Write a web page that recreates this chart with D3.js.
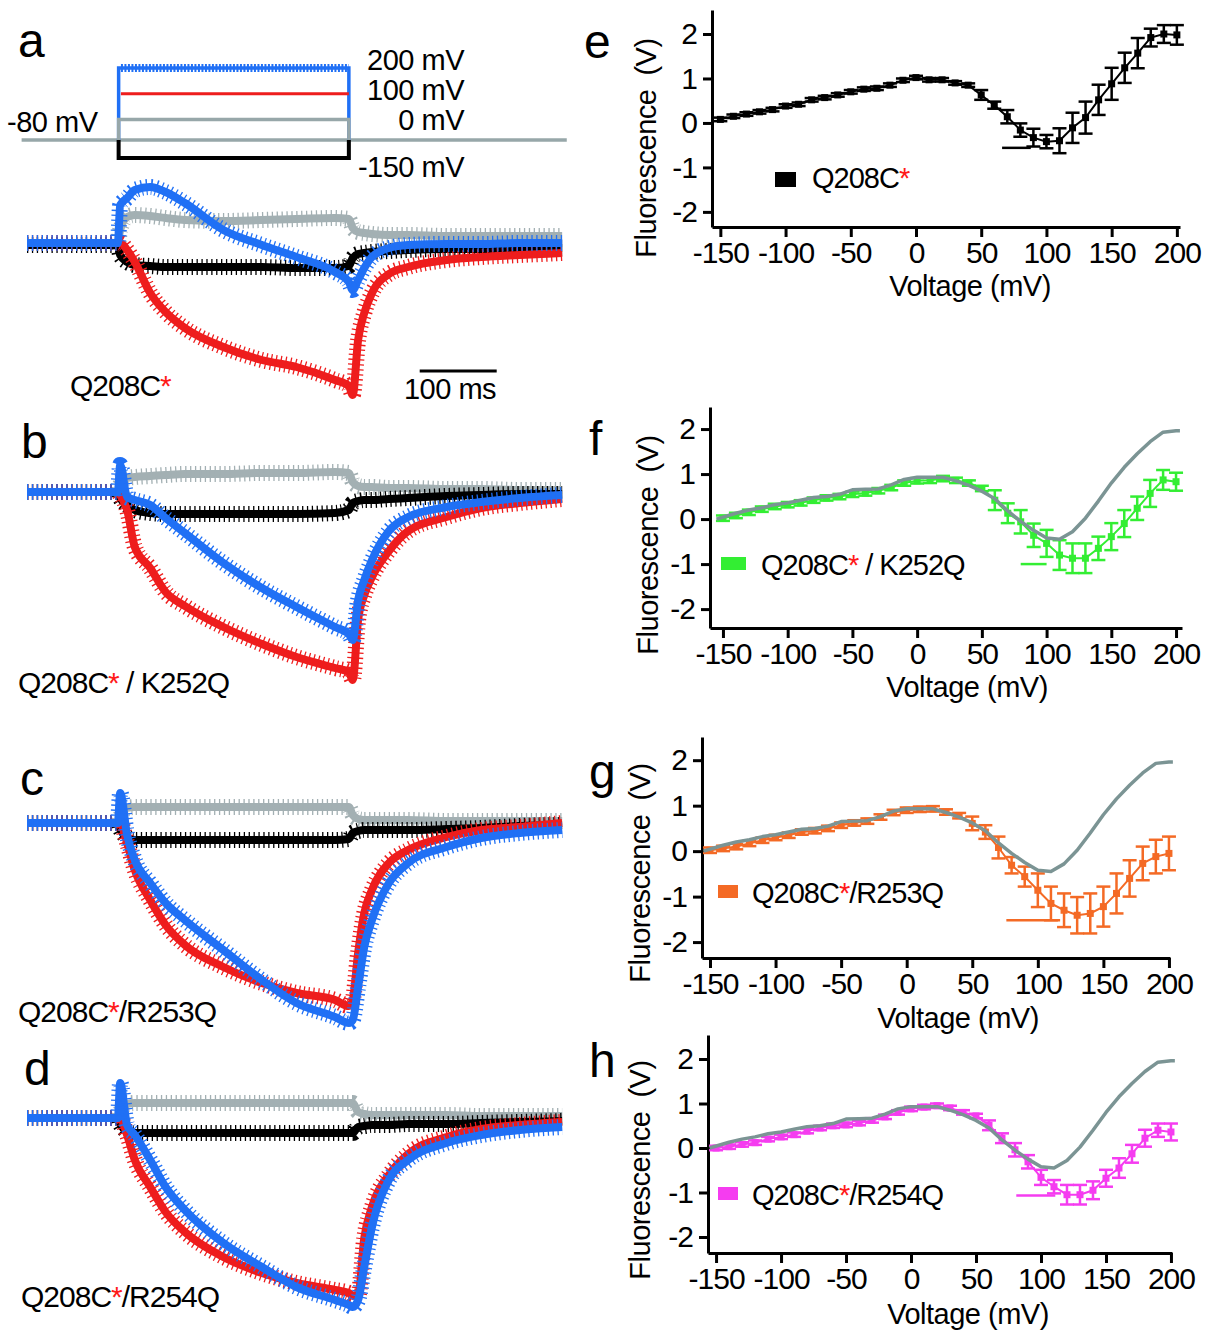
<!DOCTYPE html>
<html><head><meta charset="utf-8">
<script src="https://cdn.jsdelivr.net/npm/d3@7"></script>
<style>
body{margin:0;background:#fff}
svg{display:block}
text{font-family:"Liberation Sans",Arial,Helvetica,sans-serif}
</style>
</head><body>
<svg id="fig" width="1206" height="1332"></svg>
<script>
// ---------- DATA: voltage-clamp fluorescence traces (a-d) ----------
const traceTime = [0,60,118,121,130,140,160,180,205,255,305,350,400,418,423,430,438,448,470,495,545,590,640,695]; // ms
// ΔF (a.u.) for pulses to 0 mV (gray), -150 mV (black), 100 mV (red), 200 mV (blue)
const aGray  = [0,0,0,0.65,1.3,1.4,1.35,1.25,1.15,1.1,1.15,1.2,1.25,1.2,0.75,0.55,0.5,0.45,0.4,0.4,0.35,0.35,0.35,0.35];
const aBlack = [-0.1,-0.1,-0.1,-0.6,-0.95,-1.1,-1.15,-1.2,-1.2,-1.2,-1.2,-1.25,-1.25,-1.15,-0.75,-0.55,-0.5,-0.45,-0.4,-0.35,-0.3,-0.3,-0.25,-0.25];
const aRed   = [0,0,0,0,-0.35,-0.95,-2.5,-3.45,-4.25,-5.2,-5.85,-6.2,-6.85,-7.15,-7.6,-4.85,-3.5,-2.5,-1.55,-1.2,-0.85,-0.7,-0.6,-0.5];
const aBlue  = [0,0,0,1.9,2.25,2.65,2.8,2.55,2.0,0.65,-0.1,-0.7,-1.45,-1.95,-2.35,-1.85,-1.25,-0.7,-0.25,-0.1,-0.05,-0.05,0,0];

const bGray  = [0,0,0,0.35,0.7,0.75,0.8,0.85,0.9,0.9,0.95,0.95,1.0,0.95,0.5,0.3,0.25,0.25,0.2,0.2,0.15,0.15,0.1,0.1];
const bBlack = [0,0,0,-0.3,-0.65,-0.9,-1.05,-1.1,-1.1,-1.1,-1.1,-1.1,-1.05,-0.9,-0.55,-0.45,-0.4,-0.4,-0.35,-0.3,-0.2,-0.15,-0.1,-0.1];
const bRed   = [0,0,0,-0.15,-0.9,-2.75,-3.8,-5.0,-5.7,-6.75,-7.6,-8.25,-8.8,-9.0,-9.4,-6.4,-5.15,-4.25,-2.95,-1.95,-1.25,-0.8,-0.55,-0.35];
const bBlue  = [0,0,0,1.35,-0.25,-0.4,-0.65,-1.3,-2.05,-3.55,-4.8,-5.75,-6.75,-7.1,-7.4,-5.4,-4.4,-3.4,-1.95,-1.25,-0.75,-0.5,-0.3,-0.15];

const cGray  = [0,0,0,0.3,0.75,0.8,0.8,0.8,0.8,0.8,0.8,0.8,0.8,0.8,0.4,0.2,0.15,0.15,0.15,0.15,0.1,0.1,0.1,0.1];
const cBlack = [0,0,0,-0.3,-0.7,-0.85,-0.85,-0.85,-0.85,-0.85,-0.85,-0.85,-0.85,-0.8,-0.5,-0.4,-0.35,-0.35,-0.35,-0.35,-0.3,-0.25,-0.15,-0.1];
const cRed   = [0,0,0,0,-1.0,-2.35,-3.85,-5.1,-6.1,-7.2,-8.0,-8.5,-8.85,-9.15,-8.85,-6.5,-4.5,-3.35,-2.0,-1.35,-0.7,-0.35,-0.2,0];
const cBlue  = [0,0,0,1.5,-0.6,-1.85,-3.0,-4.0,-4.85,-6.35,-7.85,-9.0,-9.7,-10.0,-9.85,-8.2,-6.2,-4.85,-3.0,-2.0,-1.2,-0.75,-0.5,-0.35];

const dGray  = [0,0,0,0.3,0.7,0.75,0.75,0.75,0.75,0.75,0.75,0.75,0.75,0.75,0.75,0.3,0.2,0.15,0.15,0.15,0.15,0.1,0.1,0.1];
const dBlack = [0,0,0,-0.3,-0.65,-0.75,-0.75,-0.75,-0.75,-0.75,-0.75,-0.75,-0.75,-0.75,-0.75,-0.45,-0.4,-0.35,-0.35,-0.3,-0.3,-0.25,-0.2,-0.15];
const dRed   = [0,0,0,0,-0.85,-2.1,-3.45,-4.7,-5.7,-6.95,-7.75,-8.25,-8.6,-8.75,-8.9,-8.9,-6.0,-4.45,-2.85,-1.8,-0.95,-0.55,-0.35,-0.2];
const dBlue  = [0,0,0,1.75,-0.35,-0.85,-2.1,-3.45,-4.6,-6.25,-7.45,-8.45,-9.1,-9.35,-9.45,-9.1,-7.45,-5.45,-3.1,-2.1,-1.25,-0.85,-0.6,-0.45];

// pulse protocol
const holdingPotential = -80;
const pulseWindow = [119, 418];          // ms
const protocolSteps = [200, 100, 0, -150]; // mV
const protocolLabels = ["200 mV","100 mV","0 mV","-150 mV"];
const traceLabels = [["Q208C","*",""],["Q208C","*"," / K252Q"],["Q208C","*","/R253Q"],["Q208C","*","/R254Q"]];

// ---------- DATA: F-V relations (e-h) ----------
const voltages = [-150,-140,-130,-120,-110,-100,-90,-80,-70,-60,-50,-40,-30,-20,-10,0,10,20,30,40,50,60,70,80,90,100,110,120,130,140,150,160,170,180,190,200];
const eMean = [0.08,0.15,0.2,0.25,0.3,0.38,0.42,0.52,0.57,0.63,0.7,0.76,0.78,0.85,0.96,1.02,0.97,0.97,0.9,0.85,0.63,0.4,0.14,-0.16,-0.33,-0.42,-0.4,-0.11,0.12,0.52,0.88,1.24,1.57,1.92,2.0,1.98];
const eErr  = [0.04,0.04,0.04,0.04,0.04,0.04,0.04,0.04,0.04,0.04,0.04,0.04,0.04,0.04,0.04,0.04,0.04,0.04,0.04,0.04,0.11,0.08,0.15,0.15,0.2,0.15,0.28,0.34,0.36,0.34,0.36,0.34,0.34,0.2,0.2,0.22];
const fMean = [0.02,0.08,0.15,0.22,0.28,0.32,0.36,0.42,0.47,0.5,0.55,0.58,0.63,0.7,0.8,0.85,0.86,0.9,0.86,0.8,0.68,0.42,0.13,-0.06,-0.36,-0.54,-0.8,-0.87,-0.87,-0.65,-0.39,-0.1,0.24,0.57,0.87,0.83];
const fErr  = [0.06,0.06,0.06,0.06,0.06,0.06,0.06,0.06,0.06,0.06,0.06,0.06,0.06,0.06,0.06,0.06,0.06,0.06,0.06,0.06,0.06,0.22,0.22,0.26,0.26,0.3,0.33,0.33,0.33,0.26,0.3,0.3,0.26,0.3,0.22,0.2];
const gMean = [0.02,0.06,0.1,0.17,0.24,0.3,0.35,0.42,0.45,0.5,0.57,0.62,0.66,0.75,0.85,0.9,0.92,0.93,0.86,0.78,0.61,0.42,0.08,-0.31,-0.56,-0.86,-1.15,-1.3,-1.41,-1.37,-1.22,-0.93,-0.6,-0.27,-0.12,-0.05];
const gErr  = [0.06,0.06,0.06,0.06,0.06,0.06,0.06,0.06,0.06,0.06,0.06,0.06,0.06,0.06,0.06,0.06,0.06,0.06,0.06,0.06,0.15,0.15,0.24,0.18,0.22,0.37,0.37,0.37,0.4,0.44,0.44,0.44,0.4,0.37,0.37,0.37];
const hMean = [0,0.03,0.08,0.12,0.2,0.25,0.3,0.38,0.45,0.5,0.52,0.56,0.62,0.7,0.8,0.88,0.92,0.95,0.9,0.8,0.72,0.51,0.22,-0.04,-0.31,-0.66,-0.87,-1.05,-1.05,-0.95,-0.68,-0.45,-0.13,0.22,0.4,0.36];
const hErr  = [0.05,0.05,0.05,0.05,0.05,0.05,0.05,0.05,0.05,0.05,0.05,0.05,0.05,0.05,0.05,0.05,0.05,0.05,0.05,0.05,0.05,0.11,0.11,0.15,0.15,0.17,0.15,0.22,0.22,0.2,0.19,0.22,0.2,0.19,0.15,0.19];
// Q208C* reference curve (gray) overlaid on f-h
const refV = [-155,-140,-130,-120,-110,-100,-90,-80,-70,-60,-50,-40,-30,-20,-10,0,10,20,30,40,50,60,70,80,90,100,110,120,130,140,150,160,170,180,190,200,203];
const refF = [0,0.13,0.2,0.25,0.32,0.36,0.42,0.48,0.5,0.55,0.65,0.66,0.67,0.76,0.88,0.93,0.93,0.93,0.85,0.75,0.62,0.45,0.18,-0.05,-0.25,-0.42,-0.45,-0.28,0.02,0.4,0.8,1.15,1.45,1.72,1.93,1.96,1.96];
// stray horizontal segments [V start, V end, F]
const eStray = [66, 88, -0.56];
const fStray = [80, 100, -1.0];
const gStray = [76, 117, -1.52];
const hStray = [81, 111, -1.07];
const xTicks = [-150,-100,-50,0,50,100,150,200];
const yTicks = [-2,-1,0,1,2];

// ---------- DRAWING ----------
const svg = d3.select("#fig");
const COL = {gray:"#a3b0b3", black:"#000", red:"#ee1d1d", blue:"#2070f5"};
const FONT = '"Liberation Sans",Arial,Helvetica,sans-serif';

function label(x, y, parts, size, anchor) {
  const t = svg.append("text").attr("x", x).attr("y", y).attr("font-size", size)
    .attr("letter-spacing", -1).attr("text-anchor", anchor || "start");
  t.append("tspan").text(parts[0]);
  t.append("tspan").attr("fill", "#ff1a1a").text(parts[1]);
  if (parts[2]) t.append("tspan").text(parts[2]);
  return t;
}
function letter(x, y, s) {
  svg.append("text").attr("x", x).attr("y", y).attr("font-size", 48).text(s);
}

// time scale shared by protocol and traces
const tx = d3.scaleLinear().domain([0, 700]).range([27, 566]);

// protocol (panel a, top)
const vy = d3.scaleLinear().domain([-150, 200]).range([158, 68]);
const pg = svg.append("g");
const [p0, p1] = pulseWindow;
const stepPath = v => d3.line()([[tx(p0), vy(holdingPotential)], [tx(p0), vy(v)], [tx(p1), vy(v)], [tx(p1), vy(holdingPotential)]]);
pg.append("path").attr("d", d3.line()([[tx(-7), vy(holdingPotential)], [tx(701), vy(holdingPotential)]]))
  .attr("stroke", "#97a7a9").attr("stroke-width", 3.5).attr("fill", "none");
pg.append("path").attr("d", stepPath(protocolSteps[3])).attr("stroke", "#000").attr("stroke-width", 4).attr("fill", "none");
pg.append("path").attr("d", stepPath(protocolSteps[0])).attr("stroke", COL.blue).attr("stroke-width", 3.5).attr("fill", "none");
pg.append("path").attr("d", d3.line()([[tx(p0 + 3), vy(protocolSteps[0])], [tx(p1), vy(protocolSteps[0])]]))
  .attr("stroke", COL.blue).attr("stroke-width", 8).attr("stroke-dasharray", "2 1.5").attr("fill", "none");
pg.append("path").attr("d", stepPath(protocolSteps[2])).attr("stroke", "#97a7a9").attr("stroke-width", 3.5).attr("fill", "none");
pg.append("path").attr("d", d3.line()([[tx(p0 + 3), vy(protocolSteps[1])], [tx(p1), vy(protocolSteps[1])]]))
  .attr("stroke", COL.red).attr("stroke-width", 3).attr("fill", "none");
const labY = [70, 100, 130, 177];
protocolLabels.forEach((s, i) => {
  svg.append("text").attr("x", 464).attr("y", labY[i]).attr("font-size", 29).attr("letter-spacing", -0.5)
    .attr("text-anchor", "end").text(s);
});
svg.append("text").attr("x", 7).attr("y", 132).attr("font-size", 29).attr("letter-spacing", -0.5).text(holdingPotential + " mV");

// traces
const tracePanels = [
  {base: 243, data: [aGray, aBlack, aRed, aBlue], lab: [70, 396], letter: [18, 57, "a"]},
  {base: 492, data: [bGray, bBlack, bRed, bBlue], lab: [18, 693], letter: [21, 458, "b"]},
  {base: 823, data: [cGray, cBlack, cRed, cBlue], lab: [18, 1022], letter: [20, 795, "c"]},
  {base: 1118, data: [dGray, dBlack, dRed, dBlue], lab: [21, 1307], letter: [24, 1085, "d"]}
];
const traceCols = [COL.gray, COL.black, COL.red, COL.blue];
tracePanels.forEach((p, pi) => {
  const y = d3.scaleLinear().domain([-10, 3]).range([p.base + 200, p.base - 60]);
  const line = d3.line().x((d, i) => tx(traceTime[i])).y(d => y(d)).curve(d3.curveMonotoneX);
  const g = svg.append("g");
  p.data.forEach((arr, k) => {
    g.append("path").attr("d", line(arr)).attr("fill", "none").attr("stroke", traceCols[k])
      .attr("stroke-width", 8).attr("stroke-linejoin", "round");
    g.append("path").attr("d", line(arr)).attr("fill", "none").attr("stroke", traceCols[k])
      .attr("stroke-width", 16).attr("stroke-dasharray", "1.3 3.6");
  });
  label(p.lab[0], p.lab[1], traceLabels[pi], 30);
  letter(p.letter[0], p.letter[1], p.letter[2]);
});
// scale bar 100 ms
svg.append("line").attr("x1", tx(510)).attr("x2", tx(610)).attr("y1", 371).attr("y2", 371)
  .attr("stroke", "#000").attr("stroke-width", 3);
svg.append("text").attr("x", 450).attr("y", 399).attr("font-size", 29).attr("letter-spacing", -0.5)
  .attr("text-anchor", "middle").text("100 ms");

// F-V panels
const ivPanels = [
  {mean: eMean, err: eErr, stray: eStray, color: "#000", ref: false, letter: [584, 58, "e"],
   xd: [-156.4, 202.4], xr: [712, 1180], yd: [-2.34, 2.54], yr: [227, 10],
   ylab: [646, 148], xlab: [970, 296], legend: [775, 172, 21, 15], legText: [812, 188, ["Q208C","*",""]]},
  {mean: fMean, err: fErr, stray: fStray, color: "#33ee33", ref: true, letter: [589, 455, "f"],
   xd: [-160, 204.6], xr: [710, 1182], yd: [-2.42, 2.49], yr: [628, 407],
   ylab: [648, 545], xlab: [967, 697], legend: [721, 557, 25, 13], legText: [761, 575, ["Q208C","*"," / K252Q"]]},
  {mean: gMean, err: gErr, stray: gStray, color: "#f46a25", ref: true, letter: [589, 788, "g"],
   xd: [-156.1, 200.8], xr: [702, 1170], yd: [-2.35, 2.51], yr: [958, 737],
   ylab: [640, 873], xlab: [958, 1028], legend: [718, 885, 20, 13], legText: [752, 903, ["Q208C","*","/R253Q"]]},
  {mean: hMean, err: hErr, stray: hStray, color: "#f53cf0", ref: true, letter: [589, 1077, "h"],
   xd: [-156.2, 200.8], xr: [708, 1172], yd: [-2.36, 2.54], yr: [1253, 1035],
   ylab: [640, 1170], xlab: [968, 1324], legend: [718, 1187, 20, 13], legText: [752, 1205, ["Q208C","*","/R254Q"]]}
];
ivPanels.forEach(p => {
  const x = d3.scaleLinear().domain(p.xd).range(p.xr);
  const y = d3.scaleLinear().domain(p.yd).range(p.yr);
  const g = svg.append("g");
  const styleAxis = ax => {
    ax.attr("font-size", 30).attr("font-family", FONT).attr("letter-spacing", -1);
    ax.select(".domain").attr("stroke-width", 3);
    ax.selectAll(".tick line").attr("stroke-width", 3);
  };
  g.append("g").attr("transform", `translate(0,${p.yr[0]})`)
    .call(d3.axisBottom(x).tickValues(xTicks).tickFormat(d => String(d)).tickSize(10).tickSizeOuter(0).tickPadding(5))
    .call(styleAxis);
  g.append("g").attr("transform", `translate(${p.xr[0]},0)`)
    .call(d3.axisLeft(y).tickValues(yTicks).tickFormat(d => String(d)).tickSize(9).tickSizeOuter(0).tickPadding(6))
    .call(styleAxis);
  // data connecting line
  const pts = voltages.map((v, i) => [x(v), y(p.mean[i])]);
  g.append("path").attr("d", d3.line()(pts)).attr("fill", "none").attr("stroke", p.color).attr("stroke-width", 2);
  // error bars
  voltages.forEach((v, i) => {
    const cx = x(v), y0 = y(p.mean[i] - p.err[i]), y1 = y(p.mean[i] + p.err[i]);
    g.append("line").attr("x1", cx).attr("x2", cx).attr("y1", y0).attr("y2", y1).attr("stroke", p.color).attr("stroke-width", 2.5);
    [y0, y1].forEach(yy => g.append("line").attr("x1", cx - 7).attr("x2", cx + 7).attr("y1", yy).attr("y2", yy)
      .attr("stroke", p.color).attr("stroke-width", 2.5));
    g.append("rect").attr("x", cx - 3.5).attr("y", y(p.mean[i]) - 3.5).attr("width", 7).attr("height", 7).attr("fill", p.color);
  });
  // stray segment
  g.append("line").attr("x1", x(p.stray[0])).attr("x2", x(p.stray[1])).attr("y1", y(p.stray[2])).attr("y2", y(p.stray[2]))
    .attr("stroke", p.color).attr("stroke-width", 2.5);
  // reference curve
  if (p.ref) {
    g.append("path").attr("d", d3.line()(refV.map((v, i) => [x(v), y(refF[i])])))
      .attr("fill", "none").attr("stroke", "#7b9494").attr("stroke-width", 3.5).attr("stroke-linejoin", "round");
  }
  // legend
  g.append("rect").attr("x", p.legend[0]).attr("y", p.legend[1]).attr("width", p.legend[2]).attr("height", p.legend[3]).attr("fill", p.color);
  label(p.legText[0], p.legText[1], p.legText[2], 29);
  // axis titles
  const yl = svg.append("text").attr("transform", `translate(${p.ylab[0]},${p.ylab[1]}) rotate(-90)`)
    .attr("font-size", 29).attr("letter-spacing", -0.5).attr("text-anchor", "middle").attr("dominant-baseline", "central");
  yl.append("tspan").text("Fluorescence");
  yl.append("tspan").attr("dx", 14).text("(V)");
  svg.append("text").attr("x", p.xlab[0]).attr("y", p.xlab[1]).attr("font-size", 29).attr("letter-spacing", -0.5)
    .attr("text-anchor", "middle").text("Voltage (mV)");
  letter(p.letter[0], p.letter[1], p.letter[2]);
});
</script>
</body></html>
